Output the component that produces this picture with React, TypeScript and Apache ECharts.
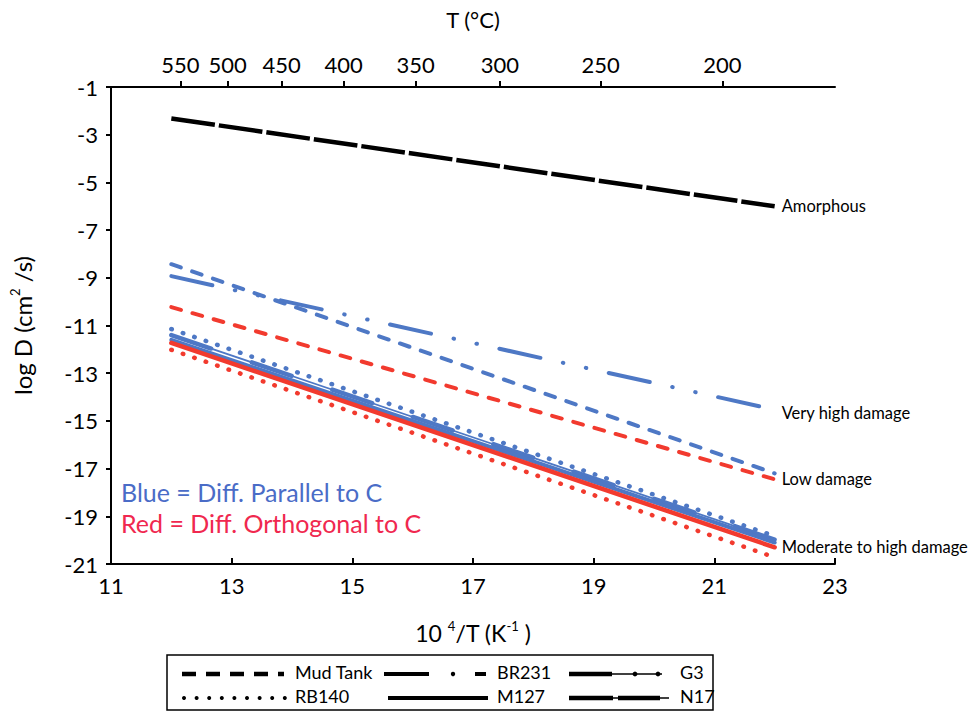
import React, { useEffect, useRef } from "react";
import * as echarts from "echarts";

// Axis ticks
const tempTicksC = [550, 500, 450, 400, 350, 300, 250, 200];
const xTicks = [11, 13, 15, 17, 19, 21, 23];
const yTicks = [-21, -19, -17, -15, -13, -11, -9, -7, -5, -3, -1];

// Arrhenius fits: log D at 10^4/T = 12 and 22
const invT = [12, 22];
const n17Amorphous = [-2.32, -6.0];
const mudTankPar = [-8.43, -17.2];
const br231Par = [-8.93, -14.53];
const mudTankOrth = [-10.23, -17.45];
const rb140Par = [-11.15, -19.83];
const g3Par = [-11.4, -19.98];
const m127Par = [-11.6, -20.1];
const m127Orth = [-11.73, -20.3];
const rb140Orth = [-12.02, -20.72];

const BLUE = "#4e78c5";
const RED = "#f23a2e";
const FONT = "Lato, 'Noto Sans', sans-serif";

const pts = (vals: number[]) => invT.map((x, i) => [x, vals[i]]);

const endLabel = (text: string, offsetY = 0) => ({
  show: true,
  formatter: text,
  distance: 7,
  offset: [0, offsetY],
  fontSize: 16.5,
  color: "#000",
  fontFamily: FONT,
});

function lineSeries(
  name: string,
  vals: number[],
  color: string,
  width: number,
  type: any,
  cap: "butt" | "round" = "round",
  label?: any
) {
  return {
    type: "line",
    name,
    data: pts(vals),
    symbol: "none",
    silent: true,
    lineStyle: { color, width, type, cap },
    endLabel: label,
  };
}

// Legend keys, drawn as black line styles
function legendGraphics() {
  const k = "#000";
  const els: any[] = [];
  const r1 = 674;
  const r2 = 698;
  const ln = (x1: number, x2: number, y: number, w: number, dash?: number[]) => ({
    type: "line",
    shape: { x1, y1: y, x2, y2: y },
    style: { stroke: k, lineWidth: w, lineDash: dash, lineCap: "butt" },
    silent: true,
  });
  const dot = (x: number, y: number, r = 2.2) => ({
    type: "circle",
    shape: { cx: x, cy: y, r },
    style: { fill: k },
    silent: true,
  });
  const txt = (s: string, x: number, y: number) => ({
    type: "text",
    x,
    y: y - 2,
    style: { text: s, fill: k, font: `18px ${FONT}`, align: "left", verticalAlign: "middle" },
    silent: true,
  });
  els.push({
    type: "rect",
    shape: { x: 167, y: 655, width: 546, height: 55 },
    style: { fill: "#fff", stroke: k, lineWidth: 1.5 },
    silent: true,
  });
  // Mud Tank
  els.push(ln(182, 284, r1, 4.5, [14, 10]));
  els.push(txt("Mud Tank", 295, r1));
  // BR231
  els.push(ln(384, 429, r1, 4));
  els.push(dot(453, r1));
  els.push(ln(475, 486, r1, 4));
  els.push(txt("BR231", 497, r1));
  // G3
  els.push(ln(569, 612, r1, 4.5));
  els.push(ln(612, 662, r1, 1.5));
  els.push(dot(635, r1, 2.4));
  els.push(dot(658, r1, 2.4));
  els.push(txt("G3", 680, r1));
  // RB140
  for (let i = 0; i < 9; i++) els.push(dot(184 + i * 12.6, r2, 2));
  els.push(txt("RB140", 295, r2));
  // M127
  els.push(ln(388, 488, r2, 4));
  els.push(txt("M127", 497, r2));
  // N17
  els.push(ln(569, 669, r2, 1.5));
  els.push(ln(569, 613, r2, 4.5));
  els.push(ln(618, 660, r2, 4.5));
  els.push(txt("N17", 680, r2));
  return els;
}

export default function App() {
  const ref = useRef<HTMLDivElement>(null);

  useEffect(() => {
    if (!ref.current) return;
    const chart = echarts.init(ref.current, null, { renderer: "svg" });
    const axisLine = { show: true, lineStyle: { color: "#000", width: 2 } };
    const tickLabel = { color: "#000", fontSize: 22, fontFamily: FONT };
    const nameStyle = (size: number) => ({
      color: "#000",
      fontSize: size,
      fontFamily: FONT,
      lineHeight: 28,
      rich: {
        sup: { fontSize: 13, fontFamily: FONT, color: "#000", verticalAlign: "top", lineHeight: 15 },
      },
    });

    chart.setOption({
      animation: false,
      backgroundColor: "#fff",
      grid: { left: 103, right: 138, top: 85, bottom: 150, containLabel: false },
      xAxis: [
        {
          type: "value",
          position: "bottom",
          min: 11,
          max: 23,
          name: "10 {sup|4}/T (K{sup|-1} )",
          nameLocation: "middle",
          nameGap: 55,
          nameTextStyle: nameStyle(23),
          axisLine,
          axisTick: { show: true, inside: true, length: 6, lineStyle: { color: "#000", width: 2 }, customValues: xTicks },
          axisLabel: { ...tickLabel, margin: 10, customValues: xTicks },
          splitLine: { show: false },
        },
        {
          type: "value",
          position: "top",
          min: 11,
          max: 23,
          name: "T (°C)",
          nameLocation: "middle",
          nameGap: 54,
          nameTextStyle: nameStyle(22),
          axisLine,
          axisTick: {
            show: true,
            inside: false,
            length: 6,
            lineStyle: { color: "#000", width: 2 },
            customValues: tempTicksC.map((c) => 1e4 / (c + 273.15)),
          },
          axisLabel: {
            ...tickLabel,
            margin: 12,
            customValues: tempTicksC.map((c) => 1e4 / (c + 273.15)),
            formatter: (v: number) => String(Math.round(1e4 / v - 273.15)),
          },
          splitLine: { show: false },
        },
      ],
      yAxis: {
        type: "value",
        min: -21,
        max: -1,
        name: "log D (cm{sup|2} /s)",
        nameLocation: "middle",
        nameGap: 75,
        nameRotate: 90,
        nameTextStyle: nameStyle(24),
        axisLine,
        axisTick: { show: true, inside: false, length: 5, lineStyle: { color: "#000", width: 2 }, customValues: yTicks },
        axisLabel: { ...tickLabel, margin: 13, customValues: yTicks },
        splitLine: { show: false },
      },
      series: [
        lineSeries("N17", n17Amorphous, "#000", 4.5, [44, 4], "butt", endLabel("Amorphous")),
        lineSeries("Mud Tank ∥c", mudTankPar, BLUE, 4, [10, 12], "round"),
        lineSeries("BR231 ∥c", br231Par, BLUE, 4, [42, 23, 0.5, 23, 0.5, 23], "round", endLabel("Very high damage", 3)),
        lineSeries("Mud Tank ⊥c", mudTankOrth, RED, 4, [10, 12], "round", endLabel("Low damage")),
        lineSeries("RB140 ∥c", rb140Par, BLUE, 4.5, [0.5, 11.6], "round"),
        lineSeries("G3 ∥c", g3Par, BLUE, 1.8, "solid", "butt"),
        lineSeries("G3 ∥c dash", g3Par, BLUE, 4.5, [42, 43], "round"),
        lineSeries("M127 ∥c", m127Par, BLUE, 4, "solid", "round"),
        lineSeries("M127 ⊥c", m127Orth, RED, 4.5, "solid", "round", endLabel("Moderate to high damage")),
        lineSeries("RB140 ⊥c", rb140Orth, RED, 4.5, [0.5, 11.6], "round"),
      ],
      graphic: [
        {
          type: "text",
          x: 121,
          y: 492,
          style: {
            text: "Blue = Diff. Parallel to C",
            fill: "#4a6cc7",
            font: `25px ${FONT}`,
            align: "left",
            verticalAlign: "middle",
          },
          silent: true,
        },
        {
          type: "text",
          x: 121,
          y: 523,
          style: {
            text: "Red = Diff. Orthogonal to C",
            fill: "#f0284f",
            font: `25px ${FONT}`,
            align: "left",
            verticalAlign: "middle",
          },
          silent: true,
        },
        ...legendGraphics(),
      ],
    });

    return () => chart.dispose();
  }, []);

  return (
    <div
      ref={ref}
      style={{ position: "absolute", left: 0, top: 0, width: 973, height: 714, background: "#fff" }}
    />
  );
}
